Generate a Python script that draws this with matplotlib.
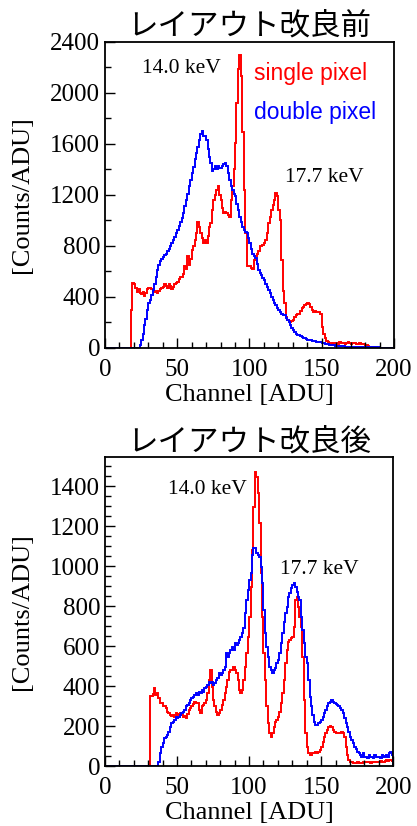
# Energy spectra before / after layout improvement (single vs double pixel events)

import matplotlib.pyplot as plt
import numpy as np
from matplotlib.ticker import MultipleLocator

# channel bins, 1 ADU wide
edges = np.arange(0, 201)

# before layout improvement (counts per ADU)
before_single = np.array([
    0, 0, 0, 0, 0, 0, 0, 0, 0, 0,
    0, 0, 0, 0, 0, 0, 0, 0, 300, 510,
    500, 470, 440, 460, 430, 420, 440, 410, 430, 460,
    470, 470, 460, 450, 440, 445, 430, 450, 460, 470,
    480, 500, 490, 470, 500, 490, 460, 480, 500, 510,
    520, 540, 560, 560, 580, 640, 620, 720, 650, 700,
    770, 800, 850, 900, 990, 950, 900, 860, 820, 850,
    820, 880, 950, 980, 1080, 1160, 1200, 1240, 1270, 1200,
    1160, 1100, 1060, 1070, 1060, 1040, 1030, 1160, 1270, 1400,
    1610, 1920, 2190, 2300, 2130, 1690, 1240, 900, 640, 640,
    640, 630, 620, 690, 720, 740, 760, 800, 800, 810,
    820, 850, 900, 980, 1030, 1080, 1120, 1160, 1215, 1190,
    1080, 1000, 690, 450, 350, 245, 220, 215, 205, 210,
    220, 240, 255, 265, 270, 290, 310, 320, 335, 345,
    350, 345, 320, 300, 285, 290, 285, 280, 285, 270,
    165, 110, 75, 55, 47, 40, 38, 35, 42, 38,
    40, 35, 45, 40, 38, 42, 35, 40, 45, 38,
    35, 40, 38, 42, 35, 30, 38, 35, 32, 30,
    25, 20, 15, 10, 8, 5, 5, 4, 3, 3,
    2, 2, 2, 2, 2, 2, 2, 2, 2, 2,
])
before_double = np.array([
    0, 0, 0, 0, 0, 0, 0, 0, 0, 0,
    0, 0, 0, 0, 0, 0, 0, 0, 0, 0,
    0, 0, 0, 0, 20, 60, 110, 180, 230, 300,
    350, 375, 415, 455, 505, 560, 610, 650, 680, 700,
    715, 730, 740, 760, 780, 800, 820, 845, 870, 900,
    925, 960, 990, 1020, 1060, 1110, 1160, 1210, 1270, 1320,
    1370, 1420, 1480, 1530, 1580, 1630, 1675, 1700, 1660, 1660,
    1630, 1560, 1500, 1450, 1385, 1400, 1425, 1400, 1425, 1410,
    1410, 1430, 1440, 1450, 1425, 1370, 1320, 1270, 1240, 1210,
    1190, 1130, 1080, 1030, 990, 950, 925, 910, 900, 860,
    820, 780, 740, 720, 705, 660, 610, 590, 570, 550,
    530, 505, 480, 455, 430, 400, 375, 355, 335, 315,
    300, 285, 270, 262, 255, 238, 220, 200, 180, 160,
    140, 125, 110, 105, 100, 92, 85, 80, 75, 70,
    65, 62, 60, 57, 55, 52, 50, 48, 47, 44,
    40, 38, 35, 32, 30, 25, 24, 22, 20, 19,
    18, 17, 16, 14, 13, 12, 11, 10, 9, 9,
    8, 8, 7, 7, 6, 6, 6, 5, 5, 5,
    5, 5, 4, 4, 4, 4, 4, 4, 4, 4,
    3, 3, 3, 3, 3, 3, 3, 3, 3, 3,
])

# after layout improvement
after_single = np.array([
    0, 0, 0, 0, 0, 0, 0, 0, 0, 0,
    0, 0, 0, 0, 0, 0, 0, 0, 0, 0,
    0, 0, 0, 0, 0, 0, 0, 0, 0, 0,
    0, 350, 350, 360, 390, 355, 365, 340, 315, 315,
    300, 300, 290, 270, 265, 255, 250, 255, 245, 265,
    255, 260, 265, 255, 245, 250, 240, 260, 280, 290,
    300, 310, 320, 315, 315, 280, 265, 300, 305, 315,
    330, 365, 430, 480, 395, 330, 300, 270, 255, 265,
    280, 305, 330, 365, 395, 430, 470, 480, 480, 495,
    480, 465, 430, 380, 365, 380, 430, 495, 565, 645,
    745, 895, 1080, 1295, 1470, 1445, 1365, 1215, 965, 745,
    565, 430, 300, 215, 165, 145, 165, 195, 220, 230,
    245, 270, 315, 365, 430, 515, 580, 620, 630, 640,
    645, 695, 830, 845, 795, 745, 695, 545, 330, 165,
    95, 63, 55, 55, 63, 63, 70, 63, 72, 80,
    95, 120, 145, 165, 180, 195, 200, 195, 180, 170,
    165, 165, 165, 165, 168, 165, 145, 95, 55, 30,
    22, 18, 17, 17, 17, 18, 17, 16, 17, 18,
    20, 22, 18, 20, 17, 20, 22, 20, 18, 20,
    22, 25, 20, 22, 25, 28, 25, 28, 30, 25,
])
after_double = np.array([
    0, 0, 0, 0, 0, 0, 0, 0, 0, 0,
    0, 0, 0, 0, 0, 0, 0, 0, 0, 0,
    0, 0, 0, 0, 0, 0, 0, 0, 0, 0,
    0, 0, 0, 0, 0, 0, 0, 20, 63, 95,
    115, 140, 145, 155, 170, 195, 215, 220, 230, 245,
    240, 245, 255, 265, 270, 280, 300, 305, 315, 330,
    340, 345, 355, 365, 355, 370, 365, 380, 370, 390,
    395, 405, 420, 415, 420, 405, 415, 430, 440, 465,
    455, 465, 480, 495, 565, 545, 565, 580, 595, 580,
    615, 605, 615, 630, 645, 665, 690, 765, 830, 880,
    930, 965, 1055, 1090, 1090, 1065, 1055, 1045, 995, 915,
    780, 665, 595, 545, 495, 480, 465, 480, 490, 515,
    530, 565, 615, 665, 720, 765, 795, 845, 865, 890,
    905, 915, 895, 870, 845, 830, 745, 680, 615, 545,
    515, 430, 345, 300, 255, 220, 205, 205, 215, 220,
    230, 245, 265, 280, 300, 315, 320, 330, 320, 315,
    310, 305, 300, 290, 280, 265, 240, 215, 195, 170,
    145, 130, 115, 95, 85, 72, 63, 55, 47, 63,
    47, 47, 38, 55, 47, 47, 38, 55, 47, 45,
    47, 38, 55, 47, 50, 55, 47, 63, 70, 55,
])

panels = [
    ("レイアウト改良前", before_single, before_double, 2400, 400, 200,
     [(53, 2190), (152, 1340)], (103, 2150), (103, 1850)),
    ("レイアウト改良後", after_single, after_double, 1545, 200, 50,
     [(71, 1383), (149, 983)], None, None),
]

serif = "Liberation Serif"

fig = plt.figure(figsize=(4.17, 8.26), dpi=100)
ax_top = fig.add_axes([0.2518, 0.5787, 0.693, 0.3705])
ax_bot = fig.add_axes([0.2518, 0.0726, 0.691, 0.374])

for ax, (title, single, double, ymax, ymaj, ymin, lines, pos_s, pos_d) in zip(
        [ax_top, ax_bot], panels):
    ax.stairs(single, edges, color="#ff0000", linewidth=1.4, baseline=0)
    ax.stairs(double, edges, color="#0000ff", linewidth=1.4, baseline=0)

    ax.set_xlim(0, 200)
    ax.set_ylim(0, ymax)
    ax.xaxis.set_major_locator(MultipleLocator(50))
    ax.xaxis.set_minor_locator(MultipleLocator(10))
    ax.yaxis.set_major_locator(MultipleLocator(ymaj))
    ax.yaxis.set_minor_locator(MultipleLocator(ymin))
    ax.tick_params(which="both", direction="in", top=False, right=False, width=1)
    ax.tick_params(which="major", length=7, labelsize=18)
    ax.tick_params(which="minor", length=4)
    ax.tick_params(axis="x", which="major", pad=8)
    ax.tick_params(axis="y", which="major", pad=3.5)
    for lab in ax.get_xticklabels() + ax.get_yticklabels():
        lab.set_fontfamily(serif)
    for sp in ax.spines.values():
        sp.set_linewidth(1.3)

    ax.set_xlabel("Channel [ADU]", fontsize=19, family=serif, labelpad=2)
    ax.set_ylabel("[Counts/ADU]", fontsize=19, family=serif, labelpad=12)
    ax.set_title(title, fontsize=22, family="Noto Sans CJK JP", pad=3)

    for (cx, cy), txt in zip(lines, ["14.0 keV", "17.7 keV"]):
        ax.text(cx, cy, txt, fontsize=15.5, family=serif, ha="center", va="center")

    if pos_s is not None:
        ax.text(pos_s[0], pos_s[1], "single pixel", color="#ff0000",
                fontsize=16.5, family="Liberation Sans", va="center")
        ax.text(pos_d[0], pos_d[1], "double pixel", color="#0000ff",
                fontsize=16.5, family="Liberation Sans", va="center")

fig.savefig("out.png", dpi=100)
plt.close()
